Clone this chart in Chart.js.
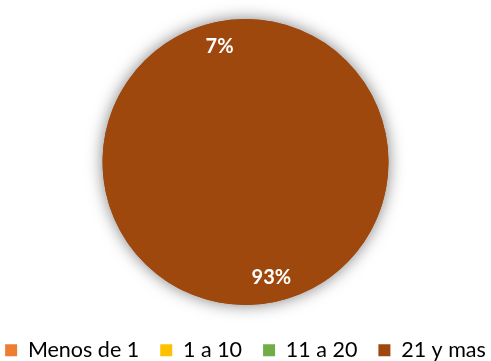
<!DOCTYPE html>
<html>
<head>
<meta charset="utf-8">
<script src="https://cdn.jsdelivr.net/npm/chart.js@4.4.0/dist/chart.umd.min.js"></script>
<style>
  html, body { margin: 0; padding: 0; background: #ffffff; }
  #wrap { width: 491px; height: 361px; }
</style>
</head>
<body>
<div id="wrap"><canvas id="myChart" width="491" height="361"></canvas></div>
<script>
// data
const categories = ['Menos de 1', '1 a 10', '11 a 20', '21 y mas'];
const values = [93, 0, 0, 7];
const legendColors = ['#ED7D31', '#FFC000', '#70AD47', '#9E480E'];
// both visible slices are drawn in the same brown in the original
const sliceColors = ['#9E480E', '#9E480E', '#9E480E', '#9E480E'];

// soft shadow round the whole pie, drawn once under the slices
const pieShadow = {
  id: 'pieShadow',
  beforeDatasetsDraw(chart) {
    const ctx = chart.ctx;
    const arc = chart.getDatasetMeta(0).data[0];
    if (!arc) return;
    const p = arc.getProps(['x', 'y', 'outerRadius'], true);
    ctx.save();
    ctx.shadowColor = 'rgba(0,0,0,0.5)';
    ctx.shadowBlur = 16;
    ctx.fillStyle = '#9E480E';
    ctx.beginPath();
    ctx.arc(p.x, p.y, p.outerRadius, 0, Math.PI * 2);
    ctx.fill();
    ctx.restore();
  }
};

// percent labels inside slices
const pctLabels = {
  id: 'pctLabels',
  afterDraw(chart) {
    const ctx = chart.ctx;
    const meta = chart.getDatasetMeta(0);
    const total = values.reduce((a, b) => a + b, 0);
    ctx.save();
    ctx.fillStyle = '#ffffff';
    ctx.font = 'bold 20px Lato, "Liberation Sans", sans-serif';
    ctx.textAlign = 'center';
    ctx.textBaseline = 'middle';
    meta.data.forEach((arc, i) => {
      if (!values[i]) return;
      const p = arc.getProps(['x', 'y', 'startAngle', 'endAngle', 'outerRadius'], true);
      const mid = (p.startAngle + p.endAngle) / 2;
      const r = p.outerRadius * 0.83;
      const pct = Math.round(values[i] / total * 100) + '%';
      ctx.fillText(pct, p.x + Math.cos(mid) * r, p.y + Math.sin(mid) * r);
    });
    ctx.restore();
  }
};

new Chart(document.getElementById('myChart').getContext('2d'), {
  type: 'pie',
  data: {
    labels: categories,
    datasets: [{
      data: values,
      backgroundColor: sliceColors,
      borderWidth: 0,
      radius: 143
    }]
  },
  options: {
    responsive: false,
    animation: false,
    // negative side padding gives the legend row the room it has in the original
    layout: { padding: { top: 5.5, bottom: -10, left: -20, right: -20 } },
    plugins: {
      tooltip: { enabled: false },
      legend: {
        position: 'bottom',
        labels: {
          boxWidth: 12,
          boxHeight: 12,
          padding: 21,
          color: '#595959',
          font: { size: 21.5, family: 'Lato, sans-serif' },
          generateLabels() {
            return categories.map((c, i) => ({
              text: c,
              fillStyle: legendColors[i],
              strokeStyle: legendColors[i],
              lineWidth: 0,
              hidden: false,
              index: i
            }));
          }
        }
      }
    }
  },
  plugins: [pieShadow, pctLabels]
});
</script>
</body>
</html>
